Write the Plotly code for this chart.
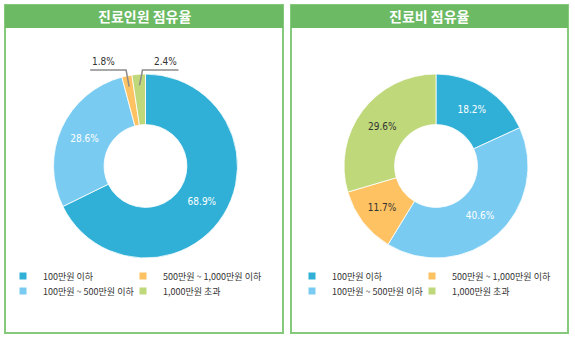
import math
import plotly.graph_objects as go

W, H = 575, 339

# ---------------- data ----------------
categories = ["100만원 이하", "100만원 ~ 500만원 이하", "500만원 ~ 1,000만원 이하", "1,000만원 초과"]
patients_share = [68.9, 28.6, 1.8, 2.4]   # 진료인원 점유율 (%)
cost_share = [18.2, 40.6, 11.7, 29.6]     # 진료비 점유율 (%)
panel_titles = ["진료인원 점유율", "진료비 점유율"]

# ---------------- style ----------------
colors = ["#30b0d6", "#7acbf1", "#fec262", "#bed87a"]
text_colors = ["#ffffff", "#ffffff", "#333333", "#333333"]
border_color = "#86c97c"
header_color = "#6cba63"
label_font = "DejaVu Sans Condensed, Liberation Sans Narrow, sans-serif"
kr_font = "Noto Sans CJK KR, Noto Sans, sans-serif"

panels = [
    dict(x0=5, x1=283, y0=5, y1=333, cx=145.5, cy=166, r=92, values=patients_share, title=panel_titles[0],
         legend_x=[3, 123]),
    dict(x0=291, x1=568, y0=5, y1=333, cx=436, cy=166, r=92, values=cost_share, title=panel_titles[1],
         legend_x=[292, 412]),
]
header_h = 23
legend_rows_y = [276, 291]
# (column, row) position of each category in the legend grid
legend_grid = [(0, 0), (0, 1), (1, 0), (1, 1)]
small_threshold = 5


def px(x):
    return x / W


def py(y):
    return 1 - y / H


fig = go.Figure()
shapes = []
annotations = []
legend_layout = {}
legend_count = 0

for p in panels:
    vals = p["values"]
    total = sum(vals)
    fig.add_trace(go.Pie(
        values=vals,
        labels=categories,
        sort=False,
        direction="clockwise",
        rotation=0,
        hole=0.45,
        marker=dict(colors=colors, line=dict(color="white", width=0.8)),
        text=[f"{v}%" if v >= small_threshold else "" for v in vals],
        textinfo="text",
        textposition="inside",
        insidetextorientation="horizontal",
        insidetextfont=dict(color=text_colors, size=10, family=label_font),
        domain=dict(x=[px(p["cx"] - p["r"]), px(p["cx"] + p["r"])],
                    y=[py(p["cy"] + p["r"]), py(p["cy"] - p["r"])]),
        showlegend=False,
        hoverinfo="label+value",
    ))

    # panel frame and header
    shapes.append(dict(type="rect", xref="paper", yref="paper",
                       x0=px(p["x0"]), x1=px(p["x1"]), y0=py(p["y1"]), y1=py(p["y0"]),
                       line=dict(color=border_color, width=2), fillcolor="white", layer="below"))
    shapes.append(dict(type="rect", xref="paper", yref="paper",
                       x0=px(p["x0"]), x1=px(p["x1"]), y0=py(p["y0"] + header_h), y1=py(p["y0"]),
                       line=dict(width=0), fillcolor=header_color, layer="below"))
    annotations.append(dict(text=p["title"], xref="paper", yref="paper",
                            x=px((p["x0"] + p["x1"]) / 2), y=py(p["y0"] + header_h / 2),
                            xanchor="center", yanchor="middle", showarrow=False,
                            font=dict(color="white", size=14, family=kr_font, weight="bold")))

    # leader lines for small slices
    cum = 0
    small = [i for i, v in enumerate(vals) if v < small_threshold]
    for i, v in enumerate(vals):
        mid = (cum + v / 2) / total * 2 * math.pi
        cum += v
        if v >= small_threshold:
            continue
        side = -1 if i == small[0] else 1
        sx = p["cx"] + 0.88 * p["r"] * math.sin(mid)
        sy = p["cy"] - 0.88 * p["r"] * math.cos(mid)
        ex = sx + side * 3
        ey = p["cy"] - p["r"] - 4
        fx = ex + side * 36
        path = f"M {px(sx)},{py(sy)} L {px(ex)},{py(ey)} L {px(fx)},{py(ey)}"
        shapes.append(dict(type="path", xref="paper", yref="paper", path=path,
                           line=dict(color="#8c8c8c", width=1.5)))
        annotations.append(dict(text=f"{v}%", xref="paper", yref="paper",
                                x=px(fx), y=py(ey - 1),
                                xanchor="left" if side < 0 else "right", yanchor="bottom",
                                showarrow=False,
                                font=dict(color="#333333", size=10, family=label_font)))

    # legend: one single-entry legend per grid cell
    for i, (col, row) in enumerate(legend_grid):
        legend_count += 1
        lname = "legend" if legend_count == 1 else f"legend{legend_count}"
        fig.add_trace(go.Scatter(
            x=[None], y=[None], mode="markers",
            marker=dict(symbol="square", size=7, color=colors[i]),
            name=categories[i], legend=lname, showlegend=True,
            hoverinfo="skip",
        ))
        legend_layout[lname] = dict(
            orientation="v", xanchor="left", yanchor="middle", bgcolor="rgba(0,0,0,0)",
            font=dict(size=9, color="#333333", family=kr_font),
            itemwidth=30, borderwidth=0, itemclick=False, itemdoubleclick=False,
            x=px(p["legend_x"][col]), y=py(legend_rows_y[row]),
        )

fig.update_layout(
    width=W, height=H,
    margin=dict(l=0, r=0, t=0, b=0),
    paper_bgcolor="white", plot_bgcolor="white",
    xaxis=dict(visible=False, range=[0, 1]),
    yaxis=dict(visible=False, range=[0, 1]),
    shapes=shapes,
    annotations=annotations,
    **legend_layout,
)

fig.write_html("out.html")
